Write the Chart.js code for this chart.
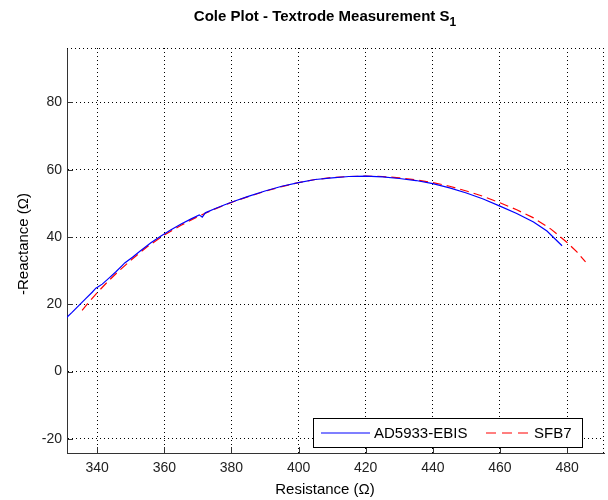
<!DOCTYPE html>
<html>
<head>
<meta charset="utf-8">
<script src="https://cdn.jsdelivr.net/npm/chart.js@4/dist/chart.umd.min.js"></script>
<style>
html, body { margin: 0; padding: 0; background: #fff; }
</style>
</head>
<body>
<canvas id="mycanvas" width="608" height="500"></canvas>
<script>
// AD5933-EBIS measurement (resistance, -reactance)
var ebisR = [330.8, 332.5, 334.5, 336.5, 338.5, 339.6, 340.3, 341.5, 343.5, 345.5, 347.5, 348.2, 350.5, 353, 356, 359, 362, 365, 368, 370.4, 371.3, 372.2, 375, 378, 381, 385, 390, 395, 400, 405, 410, 415, 420, 425, 430, 435, 440, 445, 450, 455, 460, 465, 470, 474, 478.5];
var ebisX = [16.0, 17.6, 19.6, 21.6, 23.6, 24.8, 25.2, 26.0, 27.8, 29.6, 31.6, 32.3, 34.0, 36.0, 38.3, 40.3, 42.2, 43.9, 45.4, 46.6, 45.9, 47.2, 48.4, 49.6, 50.7, 52.1, 53.7, 55.1, 56.2, 57.1, 57.6, 58.0, 58.1, 57.9, 57.4, 56.8, 55.9, 54.6, 53.1, 51.3, 49.2, 47.0, 44.5, 41.8, 37.4];

// SFB7 reference
var sfbR = [335.5, 338, 340.5, 343, 346, 350, 355, 360, 365, 370, 375, 380, 385, 390, 395, 400, 405, 410, 415, 420, 425, 430, 435, 440, 445, 450, 455, 460, 465, 470, 475, 480, 483, 485.5];
var sfbX = [18.2, 21.2, 24.0, 26.6, 29.5, 33.1, 37.2, 40.6, 43.5, 46.1, 48.3, 50.3, 52.0, 53.6, 55.0, 56.2, 57.1, 57.7, 58.0, 58.1, 58.0, 57.6, 57.0, 56.2, 55.1, 53.7, 52.1, 50.2, 48.1, 45.7, 42.5, 38.4, 35.5, 32.6];

var xTicks = [340, 360, 380, 400, 420, 440, 460, 480];
var yTicks = [-20, 0, 20, 40, 60, 80];

var FONT = "'Liberation Sans', Arial, sans-serif";

function toPoints(xs, ys) {
    var pts = [];
    for (var i in xs) {
        pts.push({x: xs[i], y: ys[i]});
    }
    return pts;
}

// box edges, inward ticks, legend and titles
var decor = {
    id: 'decor',
    afterDraw: function(chart) {
        var ctx = chart.ctx, a = chart.chartArea;
        var xs = chart.scales.x, ys = chart.scales.y;
        ctx.save();

        ctx.strokeStyle = '#000';
        ctx.lineWidth = 1;
        ctx.setLineDash([1, 3]);
        ctx.beginPath();
        ctx.moveTo(a.left, a.top + 0.5); ctx.lineTo(a.right, a.top + 0.5);
        ctx.moveTo(a.right - 0.5, a.top); ctx.lineTo(a.right - 0.5, a.bottom);
        ctx.stroke();

        ctx.setLineDash([]);
        ctx.strokeStyle = '#333';
        ctx.beginPath();
        xTicks.forEach(function(v) {
            var px = Math.round(xs.getPixelForValue(v)) + 0.5;
            ctx.moveTo(px, a.bottom); ctx.lineTo(px, a.bottom - 6);
        });
        yTicks.forEach(function(v) {
            var py = Math.round(ys.getPixelForValue(v)) + 0.5;
            ctx.moveTo(a.left, py); ctx.lineTo(a.left + 6, py);
        });
        ctx.stroke();

        // legend box (bottom right inside the axes)
        var ds = chart.data.datasets;
        var bx = 313, by = 418, bw = 269, bh = 29;
        ctx.fillStyle = '#fff';
        ctx.fillRect(bx, by, bw, bh);
        ctx.strokeStyle = '#000';
        ctx.strokeRect(bx + 0.5, by + 0.5, bw, bh);
        var my = by + bh / 2 + 0.5;
        ctx.font = '15px ' + FONT;
        ctx.textBaseline = 'middle';
        ctx.textAlign = 'left';

        ctx.strokeStyle = ds[0].borderColor;
        ctx.lineWidth = 1.2;
        ctx.beginPath(); ctx.moveTo(321, my); ctx.lineTo(370, my); ctx.stroke();
        ctx.fillStyle = '#000';
        ctx.fillText(ds[0].label, 374, my + 1);

        ctx.strokeStyle = ds[1].borderColor;
        ctx.setLineDash([10, 6]);
        ctx.beginPath(); ctx.moveTo(486, my); ctx.lineTo(531, my); ctx.stroke();
        ctx.setLineDash([]);
        ctx.fillText(ds[1].label, 534, my + 1);

        // title with subscript
        var main = 'Cole Plot - Textrode Measurement S', sub = '1';
        ctx.font = 'bold 15px ' + FONT;
        var w1 = ctx.measureText(main).width;
        ctx.font = 'bold 12px ' + FONT;
        var w2 = ctx.measureText(sub).width;
        var tx = 325 - (w1 + w2) / 2;
        ctx.font = 'bold 15px ' + FONT;
        ctx.fillText(main, tx, 17);
        ctx.font = 'bold 12px ' + FONT;
        ctx.fillText(sub, tx + w1, 23);

        ctx.textAlign = 'center';
        ctx.font = '15px ' + FONT;
        ctx.fillText('Resistance (\u03A9)', 325, 490);
        ctx.translate(24, 244);
        ctx.rotate(-Math.PI / 2);
        ctx.fillText('-Reactance (\u03A9)', 0, 0);

        ctx.restore();
    }
};

var chartdata = {
    datasets: [
        {
            label: 'AD5933-EBIS',
            data: toPoints(ebisR, ebisX),
            showLine: true,
            fill: false,
            borderColor: '#0000ff',
            borderWidth: 1.2,
            pointRadius: 0,
            tension: 0
        },
        {
            label: 'SFB7',
            data: toPoints(sfbR, sfbX),
            showLine: true,
            fill: false,
            borderColor: '#ff0000',
            borderDash: [9, 5],
            borderWidth: 1.2,
            pointRadius: 0,
            tension: 0
        }
    ]
};

var ctx = document.getElementById('mycanvas');

var ColePlot = new Chart(ctx, {
    type: 'scatter',
    data: chartdata,
    options: {
        responsive: false,
        animation: false,
        devicePixelRatio: 1,
        layout: { padding: { top: 48, right: 4, left: 0, bottom: 0 } },
        plugins: {
            legend: { display: false },
            title: { display: false },
            tooltip: { enabled: false }
        },
        scales: {
            x: {
                type: 'linear',
                min: 331,
                max: 491,
                afterBuildTicks: function(scale) {
                    scale.ticks = xTicks.map(function(v) { return {value: v}; });
                },
                afterFit: function(scale) { scale.height = 47; },
                grid: { color: '#000', lineWidth: 1, drawTicks: false },
                border: { display: true, color: '#333', width: 1, dash: [1, 3] },
                ticks: { padding: 7, color: '#222', font: { family: FONT, size: 14 } }
            },
            y: {
                type: 'linear',
                min: -24.2,
                max: 96.2,
                afterBuildTicks: function(scale) {
                    scale.ticks = yTicks.map(function(v) { return {value: v}; });
                },
                afterFit: function(scale) { scale.width = 67; },
                grid: { color: '#000', lineWidth: 1, drawTicks: false },
                border: { display: true, color: '#333', width: 1, dash: [1, 3] },
                ticks: { padding: 5, color: '#222', font: { family: FONT, size: 14 } }
            }
        }
    },
    plugins: [decor]
});
</script>
</body>
</html>
